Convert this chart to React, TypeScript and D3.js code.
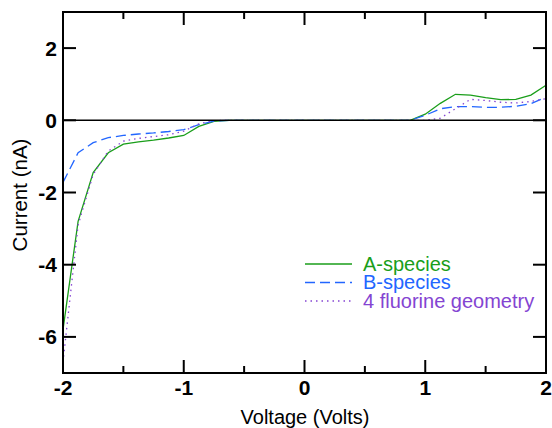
import React from "react";
import * as d3 from "d3";

const voltages = [-2, -1.875, -1.75, -1.625, -1.5, -1.375, -1.25, -1.125, -1.0, -0.875, -0.75, -0.625, -0.5, 0, 0.5, 0.75, 0.875, 1.0, 1.125, 1.25, 1.375, 1.5, 1.625, 1.75, 1.875, 2.0];
const aSpecies = [-5.8, -2.8, -1.45, -0.9, -0.66, -0.6, -0.55, -0.49, -0.42, -0.17, -0.03, 0, 0, 0, 0, 0, 0, 0.17, 0.47, 0.72, 0.7, 0.63, 0.57, 0.58, 0.7, 0.97];
const bSpecies = [-1.72, -0.9, -0.62, -0.48, -0.42, -0.38, -0.35, -0.31, -0.26, -0.12, -0.02, 0, 0, 0, 0, 0, 0, 0.14, 0.32, 0.38, 0.38, 0.36, 0.36, 0.39, 0.46, 0.64];
const fluorine4 = [-6.7, -2.9, -1.5, -0.85, -0.58, -0.5, -0.45, -0.4, -0.3, -0.1, -0.01, 0, 0, 0, 0, 0, 0, 0.0, 0.06, 0.32, 0.58, 0.55, 0.5, 0.48, 0.52, 0.6];

const seriesNames = ["A-species", "B-species", "4 fluorine geometry"];
const seriesColors = ["#1a9e1a", "#2266ff", "#8444d2"];
const seriesDash = ["none", "10,5", "1.5,4"];
const seriesData = [aSpecies, bSpecies, fluorine4];

const xMajorTicks = [-2, -1, 0, 1, 2];
const xMinorTicks = [-1.5, -0.5, 0.5, 1.5];
const yTicks = [-6, -4, -2, 0, 2];

const FONT = "'Liberation Sans', Arial, Helvetica, sans-serif";

export default function App() {
  const left = 63, right = 546, top = 12, bottom = 373;
  const x = d3.scaleLinear().domain([-2, 2]).range([left, right]);
  const y = d3.scaleLinear().domain([-7, 3]).range([bottom, top]);
  const line = d3.line<number>().x((_, i) => x(voltages[i])).y((d) => y(d));
  const majorLen = 13, minorLen = 7;

  return (
    <svg width={552} height={428} style={{ position: "absolute", left: 0, top: 0, background: "#fff" }}>
      <g fill="none">
        {seriesData.map((s, k) => (
          <path key={k} d={line(s) || ""} stroke={seriesColors[k]} strokeWidth={1.3} strokeDasharray={seriesDash[k]} />
        ))}
      </g>
      <line x1={left} x2={right} y1={y(0)} y2={y(0)} stroke="#000" strokeWidth={1.5} />
      {xMajorTicks.map((t) => (
        <g key={"xm" + t}>
          <line x1={x(t)} x2={x(t)} y1={bottom} y2={bottom - majorLen} stroke="#000" strokeWidth={2} />
          <line x1={x(t)} x2={x(t)} y1={top} y2={top + majorLen} stroke="#000" strokeWidth={2} />
          <text x={x(t)} y={395} textAnchor="middle" fontFamily={FONT} fontSize={21} fontWeight="bold" fill="#000">{t}</text>
        </g>
      ))}
      {xMinorTicks.map((t) => (
        <g key={"xn" + t}>
          <line x1={x(t)} x2={x(t)} y1={bottom} y2={bottom - minorLen} stroke="#000" strokeWidth={2} />
          <line x1={x(t)} x2={x(t)} y1={top} y2={top + minorLen} stroke="#000" strokeWidth={2} />
        </g>
      ))}
      {yTicks.map((t) => (
        <g key={"y" + t}>
          <line x1={left} x2={left + majorLen} y1={y(t)} y2={y(t)} stroke="#000" strokeWidth={2} />
          <line x1={right} x2={right - majorLen} y1={y(t)} y2={y(t)} stroke="#000" strokeWidth={2} />
          <text x={57} y={y(t) + 7.5} textAnchor="end" fontFamily={FONT} fontSize={21} fontWeight="bold" fill="#000">{t}</text>
        </g>
      ))}
      <rect x={left} y={top} width={right - left} height={bottom - top} fill="none" stroke="#000" strokeWidth={2} />
      <text x={305} y={424} textAnchor="middle" fontFamily={FONT} fontSize={20} fill="#000">Voltage (Volts)</text>
      <text transform={`translate(27,195) rotate(-90)`} textAnchor="middle" fontFamily={FONT} fontSize={20.5} fill="#000">Current (nA)</text>
      {seriesNames.map((n, k) => (
        <g key={n}>
          <line x1={305} x2={352} y1={264 + k * 18.5} y2={264 + k * 18.5} stroke={seriesColors[k]} strokeWidth={1.3} strokeDasharray={seriesDash[k]} />
          <text x={363} y={264 + k * 18.5 + 6.5} fontFamily={FONT} fontSize={20} fill={seriesColors[k]}>{n}</text>
        </g>
      ))}
    </svg>
  );
}
